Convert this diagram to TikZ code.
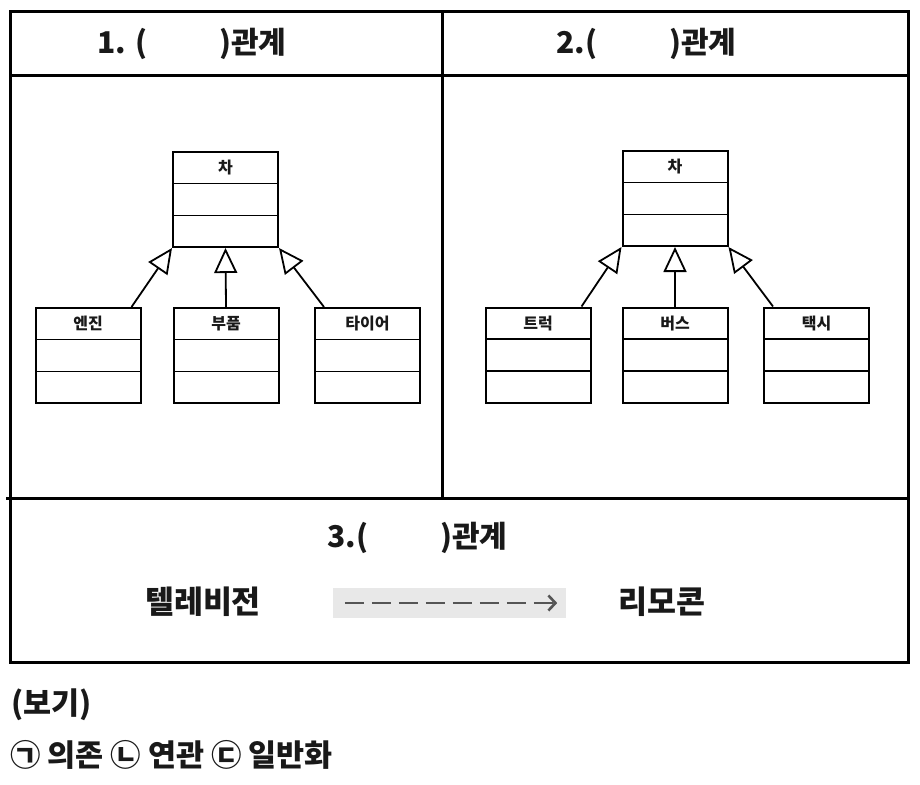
\documentclass[tikz,border=0pt]{standalone}
\usepackage{fontspec}
\setmainfont{Noto Sans CJK KR}
\usetikzlibrary{arrows.meta,positioning}
\definecolor{ink}{RGB}{25,25,25}
\definecolor{dashgray}{RGB}{85,85,85}
\definecolor{boxgray}{RGB}{232,232,232}
\tikzset{
  frame/.style={draw=black,line width=3pt},
  title/.style={anchor=west,font=\fontsize{30}{36}\selectfont\bfseries,text=ink,inner sep=0pt},
  word/.style={font=\fontsize{31.5}{38}\selectfont\bfseries,text=ink,inner sep=0pt},
  note/.style={anchor=west,font=\fontsize{30.5}{36}\selectfont\bfseries,text=ink,inner sep=0pt},
  clsbox/.style={draw=black,line width=2pt,minimum width=105pt,minimum height=95pt,inner sep=0pt},
  clsdiv/.style={draw=black,line width=1.5pt},
  clsname/.style={font=\fontsize{16}{19}\selectfont\bfseries,text=ink,inner sep=0pt},
  gen/.style={line width=1.8pt,-{Triangle[length=25pt,width=23pt,fill=white]}},
  dep/.style={line width=2.6pt,draw=dashgray,dash pattern=on 19pt off 8pt,
    -{Straight Barb[length=7pt,width=15pt]}},
  % class with three compartments
  pics/umlclass/.style={code={
    \node[clsbox] (-box) at (0,0) {};
    \draw[clsdiv] (-52.5,-15.8) -- (52.5,-15.8) (-52.5,15.8) -- (52.5,15.8);
    \node[clsname] (-name) at (0,-31.7) {#1};
  }},
}
\begin{document}
\begin{tikzpicture}[x=1pt,y=-1pt]
  \useasboundingbox (0,0) rectangle (920,784);
  % table
  \draw[frame] (10,12) rectangle (908,662);
  \draw[frame] (10,75) -- (908,75);
  \draw[frame] (442,12) -- (442,498);
  \draw[frame] (6,498) -- (908,498);
  \node[title] (t1) at (97,44) {1. (\hspace{72pt})관계};
  \node[title] (t2) at (556,44) {2.(\hspace{72pt})관계};

  % 1: parts
  \pic (car1) at (225.5,199.5) {umlclass=차};
  \pic (engine) at (88,355.5) {umlclass=엔진};
  \pic (part) at (226,355.5) {umlclass=부품};
  \pic (tire) at (367.5,355.5) {umlclass=타이어};
  \draw[gen] ([xshift=-10pt]engine-box.north east) -- (car1-box.south west);
  \draw[gen] (part-box.north) -- (car1-box.south);
  \draw[gen] ([xshift=10pt]tire-box.north west) -- (car1-box.south east);

  % 2: kinds
  \pic (car2) at (675,198.5) {umlclass=차};
  \pic (truck) at (538,355) {umlclass=트럭};
  \pic (bus) at (675,355) {umlclass=버스};
  \pic (taxi) at (816.5,355) {umlclass=택시};
  \draw[gen] ([xshift=-10pt]truck-box.north east) -- (car2-box.south west);
  \draw[gen] (bus-box.north) -- (car2-box.south);
  \draw[gen] ([xshift=10pt]taxi-box.north west) -- (car2-box.south east);

  % 3
  \node[title] (t3) at (327,538) {3.(\hspace{72pt})관계};
  \node[word] (tv) at (203,602) {텔레비전};
  \node[fill=boxgray,minimum width=233pt,minimum height=30pt,inner sep=0pt] (band) at (449.5,603) {};
  \node[word] (remote) at (662,602) {리모콘};
  \draw[dep] ([xshift=12pt]band.west) -- ([xshift=-9pt]band.east);

  \node[note] (ex) at (11,705) {(보기)};
  \node[note] (opts) at (10,755) {㉠ 의존 ㉡ 연관 ㉢ 일반화};
\end{tikzpicture}
\end{document}
